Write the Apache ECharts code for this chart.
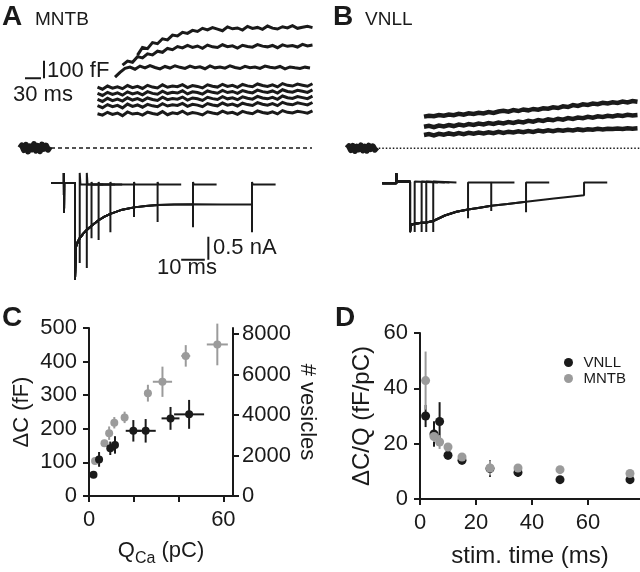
<!DOCTYPE html>
<html>
<head>
<meta charset="utf-8">
<script src="https://cdn.jsdelivr.net/npm/echarts@6/dist/echarts.min.js"></script>
<style>
  html, body { margin: 0; padding: 0; background: #fff; }
  #chart { width: 640px; height: 572px; }
</style>
</head>
<body>
<div id="chart"></div>
<script>
// capacitance traces (fF), one sample every 10 ms from the start time
const capStep = 10;
const mntbCapStart = [235, 205, 190, 155, 155, 155, 155, 155];
const mntbCap1 = [531,575,568,602,596,624,618,645,640,661,655,672,666,684,675,688,679,670,692,681,686,674,695,683,689,678,697,685,680,693,686,699,684,690,695,688];
const mntbCap2 = [474,497,490,522,515,538,532,553,547,569,562,580,572,586,575,583,570,588,578,574,590,579,584,571,587,580,576,591,582,578,586,573,589,581,585,577,592,583,588];
const mntbCap3 = [405,432,455,462,450,468,458,471,460,452,466,457,470,461,455,468,459,464,453,469,458,463,456,470,460,454,467,459,463,455,468,461,457,466,452,463,458,455,462,457];
const mntbCap4 = [348,336,354,342,350,339,357,345,352,340,358,348,343,361,347,354,350,362,345,357,352,343,361,353,348,364,352,358,347,363,355,350,366,357,352,361,349,368,358,354,365,359,353,367];
const mntbCap5 = [312,300,318,306,315,302,321,309,317,304,322,312,307,325,311,318,314,327,309,321,317,308,326,318,313,329,317,323,312,328,320,315,331,322,317,326,314,333,323,319,330,324,318,332];
const mntbCap6 = [278,266,284,271,280,268,287,274,282,270,286,277,272,290,276,283,279,291,274,286,281,272,290,282,277,293,281,287,276,292,284,279,295,286,281,290,278,297,287,283,294,288,282,296];
const mntbCap7 = [242,230,248,236,244,229,251,238,246,233,249,241,236,253,240,247,243,255,238,250,245,236,254,246,241,257,245,251,240,256,248,243,259,250,245,254,242,261,251,247,258,252,246,260];
const mntbCap8 = [196,188,204,192,200,185,206,194,199,188,205,197,192,208,190,201,196,210,193,203,198,189,207,200,195,211,199,204,192,209,201,196,212,203,198,207,195,214,204,200,210,205,199,212];
const vnllCapStart = [155, 155, 155];
const vnllCap1 = [181,186,183,190,186,193,189,197,192,200,196,203,199,207,202,210,214,209,218,213,222,217,225,221,229,226,234,230,240,236,247,242,251,248,256,252,260,256,263,259,267,262,270,266];
const vnllCap2 = [123,128,121,130,125,133,127,136,130,138,133,141,136,144,139,147,142,150,145,153,148,157,152,161,156,165,160,169,164,173,168,176,172,180,175,183,179,186,182,189,185,192,188,190];
const vnllCap3 = [76,81,74,83,78,85,79,87,81,88,83,90,85,92,86,94,88,95,90,97,92,99,94,101,96,103,98,104,100,106,102,108,104,109,106,111,108,112,110,113,111,115,112,114];
// pre-stimulus capacitance baseline, one sample every 4 ms
const preStep = 4;
const mntbCapPre = [0,15,-12,18,-20,10,-8,22,-15,12,-18,20,-5,14,-10,8];
const vnllCapPre = [0,12,-10,14,-15,9,-6,16,-12,10,-14,15,-4,11,-8,6];
const mntbZeroSpan = [62, 584];
const vnllZeroSpan = [64, 590];

// Ca currents (nA) vs time (ms) from step onset
const mntbEndT = [2, 5, 7, 10, 15, 25, 35, 50, 75];
const mntbTailMin = [-1.74, -1.85, -1.2, -1.24, -1.07, -0.74, -0.85, -0.96, -1.07];
const mntbTailUp = [0.22, 0.22, 0.02, 0.02, 0.02, 0.02, 0.02, 0.02, 0.02];
const mntbEnvT = [0.3, 1, 2, 3.5, 5, 7, 10, 12.5, 15, 20, 25, 30, 35, 42, 50, 62, 75];
const mntbEnvI = [-1.4, -1.3, -1.2, -1.1, -1.02, -0.93, -0.81, -0.73, -0.67, -0.58, -0.53, -0.5, -0.48, -0.47, -0.46, -0.465, -0.46];
const mntbPre = [[-10, 0], [-4.7, 0], [-4.7, 0.22], [-4.65, -0.65], [-4.6, 0], [0, 0]];
const mntbOnset = -2.1, mntbPost = -0.03;

const vnllEndT = [2, 5, 7, 10, 25, 35, 50, 75];
const vnllTailMin = [-1.06, -1.06, -1.06, -1.06, -0.76, -0.6, -0.63, -0.26];
const vnllTailUp = [0.04, 0.04, 0.04, 0.04, 0.02, 0.02, 0.02, 0.02];
const vnllEnvT = [0.3, 2, 5, 7, 10, 15, 20, 25, 30, 35, 42, 50, 62, 75];
const vnllEnvI = [-0.9, -0.88, -0.86, -0.85, -0.82, -0.7, -0.62, -0.57, -0.53, -0.49, -0.45, -0.4, -0.33, -0.26];
const vnllPre = [[-12, 0], [-5.9, 0], [-5.9, 0.22], [-5.8, 0.04], [0, 0.04]];
const vnllOnset = -1.06, vnllPost = 0.02;

// panel C: deltaC (fF) vs Q_Ca (pC)
const cVnllQ = [2, 4.5, 9.5, 11.6, 19.8, 25.3, 36.4, 44.7];
const cVnllQErr = [0.6, 1, 1, 1, 3.4, 4.5, 4, 6.7];
const cVnllDC = [63, 109, 142, 152, 194, 194, 231, 243];
const cVnllDCErr = [6, 22, 20, 26, 32, 35, 34, 43];
const cMntbQ = [2.7, 6.9, 9, 11.3, 15.9, 26.3, 32.8, 43.2, 57.3];
const cMntbQErr = [1, 1, 1, 1, 1.5, 1.5, 4.3, 2, 4.7];
const cMntbDC = [104, 157, 187, 218, 234, 306, 340, 417, 451];
const cMntbDCErr = [10, 10, 20, 17, 17, 25, 45, 32, 62];

// panel D: deltaC/Q (fF/pC) vs stim. time (ms)
const dStimT = [2, 5, 7, 10, 15, 25, 35, 50, 75];
const dVnll = [30, 23.5, 28, 15.8, 14, 11, 9.6, 7, 7];
const dVnllErr = [4, 4.6, 7, 1.5, 1.5, 3, 1.5, 0.8, 0.8];
const dMntb = [42.8, 22.6, 20.6, 18.8, 15.2, 11.2, 11.2, 10.6, 9.2];
const dMntbErr = [10.5, 2, 2.5, 1.2, 1, 2.7, 1, 0.8, 0.8];

const ink = '#1a1a1a';
const grey = '#9b9b9b';
const FONT = '"Liberation Sans", Arial, Helvetica, sans-serif';

const chart = echarts.init(document.getElementById('chart'), null, { renderer: 'canvas' });

function capLine(vals, start, step, gi, width, join) {
  return {
    type: 'line', xAxisIndex: gi, yAxisIndex: gi, silent: true, showSymbol: false,
    data: vals.map((v, i) => [start + i * step, v]),
    lineStyle: { color: ink, width: width, join: join || 'miter' }
  };
}

function plainLine(points, gi, width, dash) {
  return {
    type: 'line', xAxisIndex: gi, yAxisIndex: gi, silent: true, showSymbol: false,
    data: points, lineStyle: { color: ink, width: width, type: dash || 'solid' }
  };
}

function currentLine(end, tailMin, tailUp, envT, envI, pre, onset, post, gi) {
  const pts = pre.slice();
  pts.push([0, onset]);
  envT.forEach((t, i) => { if (t <= end) pts.push([t, envI[i]]); });
  pts.push([end, tailMin], [end, tailUp], [end + 0.3, post], [end + 10, post]);
  return plainLine(pts, gi, 2);
}

function errRender(params, api) {
  const x = api.value(0), y = api.value(1), ex = api.value(2), ey = api.value(3);
  const lo = api.coord([x, y - ey]);
  const hi = api.coord([x, y + ey]);
  const le = api.coord([x - ex, y]);
  const ri = api.coord([x + ex, y]);
  const style = { stroke: api.visual('color'), lineWidth: 2 };
  return {
    type: 'group',
    children: [
      { type: 'line', shape: { x1: lo[0], y1: lo[1], x2: hi[0], y2: hi[1] }, style: style },
      { type: 'line', shape: { x1: le[0], y1: le[1], x2: ri[0], y2: ri[1] }, style: style }
    ]
  };
}

function errSeries(xs, ys, xe, ye, color, xi, yi, name) {
  return {
    type: 'custom', name: name, xAxisIndex: xi, yAxisIndex: yi, silent: true,
    renderItem: errRender, itemStyle: { color: color },
    encode: { x: 0, y: 1 },
    data: xs.map((x, i) => [x, ys[i], xe ? xe[i] : 0, ye[i]])
  };
}

function dots(xs, ys, color, xi, yi, name, size) {
  return {
    type: 'scatter', name: name, xAxisIndex: xi, yAxisIndex: yi, silent: true,
    symbol: 'circle', symbolSize: size, itemStyle: { color: color, opacity: 1 },
    data: xs.map((x, i) => [x, ys[i]])
  };
}

const hidden = { show: false };
const axisCommon = {
  axisLine: { show: true, lineStyle: { color: ink, width: 2 } },
  axisTick: { show: true, length: 6, lineStyle: { color: ink, width: 2 } },
  axisLabel: { color: ink, fontSize: 22, fontFamily: FONT, margin: 12, formatter: v => String(v) },
  splitLine: { show: false }
};

function txt(text, x, y, size, bold) {
  return {
    type: 'text', x: x, y: y, silent: true,
    style: { text: text, fill: ink, fontSize: size, fontFamily: FONT, fontWeight: bold ? 'bold' : 'normal', verticalAlign: 'middle' }
  };
}

const series = [];
// MNTB capacitance
[mntbCap1, mntbCap2, mntbCap3, mntbCap4, mntbCap5, mntbCap6, mntbCap7, mntbCap8].forEach((v, i) => {
  series.push(capLine(v, mntbCapStart[i], capStep, 0, 3));
});
series.push(capLine(mntbCapPre, 0, preStep, 0, 6, 'round'));
series.push(plainLine([[mntbZeroSpan[0], 0], [mntbZeroSpan[1], 0]], 0, 1.5, [4, 3]));
series.push(plainLine([[10, 398], [42, 398]], 0, 2));
series.push(plainLine([[48, 398], [48, 498]], 0, 2));
// VNLL capacitance
[vnllCap1, vnllCap2, vnllCap3].forEach((v, i) => {
  series.push(capLine(v, vnllCapStart[i], capStep, 1, 4.5));
});
series.push(capLine(vnllCapPre, 0, preStep, 1, 6, 'round'));
series.push(plainLine([[vnllZeroSpan[0], 0], [vnllZeroSpan[1], 0]], 1, 1.5, [1.5, 2]));
// currents
mntbEndT.forEach((e, i) => {
  series.push(currentLine(e, mntbTailMin[i], mntbTailUp[i], mntbEnvT, mntbEnvI, mntbPre, mntbOnset, mntbPost, 2));
});
series.push(plainLine([[45, -1.67], [55, -1.67]], 2, 2));
series.push(plainLine([[56.5, -1.67], [56.5, -1.17]], 2, 2));
vnllEndT.forEach((e, i) => {
  series.push(currentLine(e, vnllTailMin[i], vnllTailUp[i], vnllEnvT, vnllEnvI, vnllPre, vnllOnset, vnllPost, 3));
});
// panel C
series.push(errSeries(cMntbQ, cMntbDC, cMntbQErr, cMntbDCErr, grey, 4, 4, 'MNTB'));
series.push(dots(cMntbQ, cMntbDC, grey, 4, 4, 'MNTB', 8));
series.push(errSeries(cVnllQ, cVnllDC, cVnllQErr, cVnllDCErr, ink, 4, 4, 'VNLL'));
series.push(dots(cVnllQ, cVnllDC, ink, 4, 4, 'VNLL', 8));
// panel D
series.push(errSeries(dStimT, dVnll, null, dVnllErr, ink, 5, 6, 'VNLL'));
series.push(dots(dStimT, dVnll, ink, 5, 6, 'VNLL', 9));
series.push(errSeries(dStimT, dMntb, null, dMntbErr, grey, 5, 6, 'MNTB'));
series.push(dots(dStimT, dMntb, grey, 5, 6, 'MNTB', 9));

const option = {
  animation: false,
  backgroundColor: '#fff',
  textStyle: { fontFamily: FONT },
  grid: [
    { left: 20, top: 16.75, width: 295, height: 148.75 },
    { left: 347, top: 17.05, width: 295, height: 148.75 },
    { left: 51.4, top: 164.6, width: 226.56, height: 124.2 },
    { left: 382.2, top: 164.9, width: 227.36, height: 124.2 },
    { left: 89, top: 328, width: 144, height: 168 },
    { left: 420, top: 333, width: 220, height: 166 }
  ],
  xAxis: [
    { gridIndex: 0, type: 'value', min: 0, max: 590, ...hidden },
    { gridIndex: 1, type: 'value', min: 0, max: 590, ...hidden },
    { gridIndex: 2, type: 'value', min: -10, max: 86, ...hidden },
    { gridIndex: 3, type: 'value', min: -12, max: 86, ...hidden },
    Object.assign({}, axisCommon, {
      gridIndex: 4, type: 'value', min: 0, max: 64.3, interval: 20,
      axisTick: Object.assign({}, axisCommon.axisTick, { customValues: [0, 20, 40, 60] }),
      axisLabel: Object.assign({}, axisCommon.axisLabel, { customValues: [0, 60], margin: 13 }),
      name: '{q|Q}{s|Ca}{q| (pC)}', nameLocation: 'middle', nameGap: 44,
      nameTextStyle: {
        rich: {
          q: { fontSize: 22, fontFamily: FONT, color: ink, verticalAlign: 'bottom', padding: [0, 0, 5, 0] },
          s: { fontSize: 16, fontFamily: FONT, color: ink, verticalAlign: 'bottom' }
        }
      }
    }),
    Object.assign({}, axisCommon, {
      gridIndex: 5, type: 'value', min: 0, max: 78.57, interval: 20,
      axisTick: Object.assign({}, axisCommon.axisTick, { customValues: [0, 20, 40, 60] }),
      axisLabel: Object.assign({}, axisCommon.axisLabel, { customValues: [0, 20, 40, 60], margin: 13 }),
      name: 'stim. time (ms)', nameLocation: 'middle', nameGap: 45,
      nameTextStyle: { fontSize: 24, fontFamily: FONT, color: ink }
    })
  ],
  yAxis: [
    { gridIndex: 0, type: 'value', min: -100, max: 750, ...hidden },
    { gridIndex: 1, type: 'value', min: -100, max: 750, ...hidden },
    { gridIndex: 2, type: 'value', min: -2.3, max: 0.4, ...hidden },
    { gridIndex: 3, type: 'value', min: -2.3, max: 0.4, ...hidden },
    Object.assign({}, axisCommon, {
      gridIndex: 4, type: 'value', min: 0, max: 500, interval: 100,
      name: 'ΔC (fF)', nameLocation: 'middle', nameGap: 56, nameRotate: 90,
      nameTextStyle: { fontSize: 22, fontFamily: FONT, color: ink }
    }),
    Object.assign({}, axisCommon, {
      gridIndex: 4, type: 'value', position: 'right', min: 0, max: 8300,
      axisTick: Object.assign({}, axisCommon.axisTick, { customValues: [0, 2000, 4000, 6000, 8000] }),
      axisLabel: Object.assign({}, axisCommon.axisLabel, { customValues: [0, 2000, 4000, 6000, 8000], margin: 9 }),
      name: '# vesicles', nameLocation: 'middle', nameGap: 63, nameRotate: -90,
      nameTextStyle: { fontSize: 22, fontFamily: FONT, color: ink }
    }),
    Object.assign({}, axisCommon, {
      gridIndex: 5, type: 'value', min: 0, max: 60, interval: 20,
      name: 'ΔC/Q (fF/pC)', nameLocation: 'middle', nameGap: 46, nameRotate: 90,
      nameTextStyle: { fontSize: 24, fontFamily: FONT, color: ink }
    })
  ],
  legend: {
    data: [{ name: 'VNLL', icon: 'circle' }, { name: 'MNTB', icon: 'circle' }],
    orient: 'vertical', left: 559, top: 350, itemWidth: 20, itemHeight: 9, itemGap: 1,
    selectedMode: false,
    textStyle: { fontSize: 15, fontFamily: FONT, color: ink }
  },
  graphic: [
    txt('A', 2, 17, 28, true),
    txt('MNTB', 35, 20, 19),
    txt('B', 333, 17, 28, true),
    txt('VNLL', 365, 20, 19),
    txt('C', 2, 318, 28, true),
    txt('D', 335, 318, 28, true),
    txt('100 fF', 47, 71, 22),
    txt('30 ms', 13, 95, 22),
    txt('0.5 nA', 213, 248, 22),
    txt('10 ms', 157, 268, 22)
  ],
  series: series
};

chart.setOption(option);
</script>
</body>
</html>
